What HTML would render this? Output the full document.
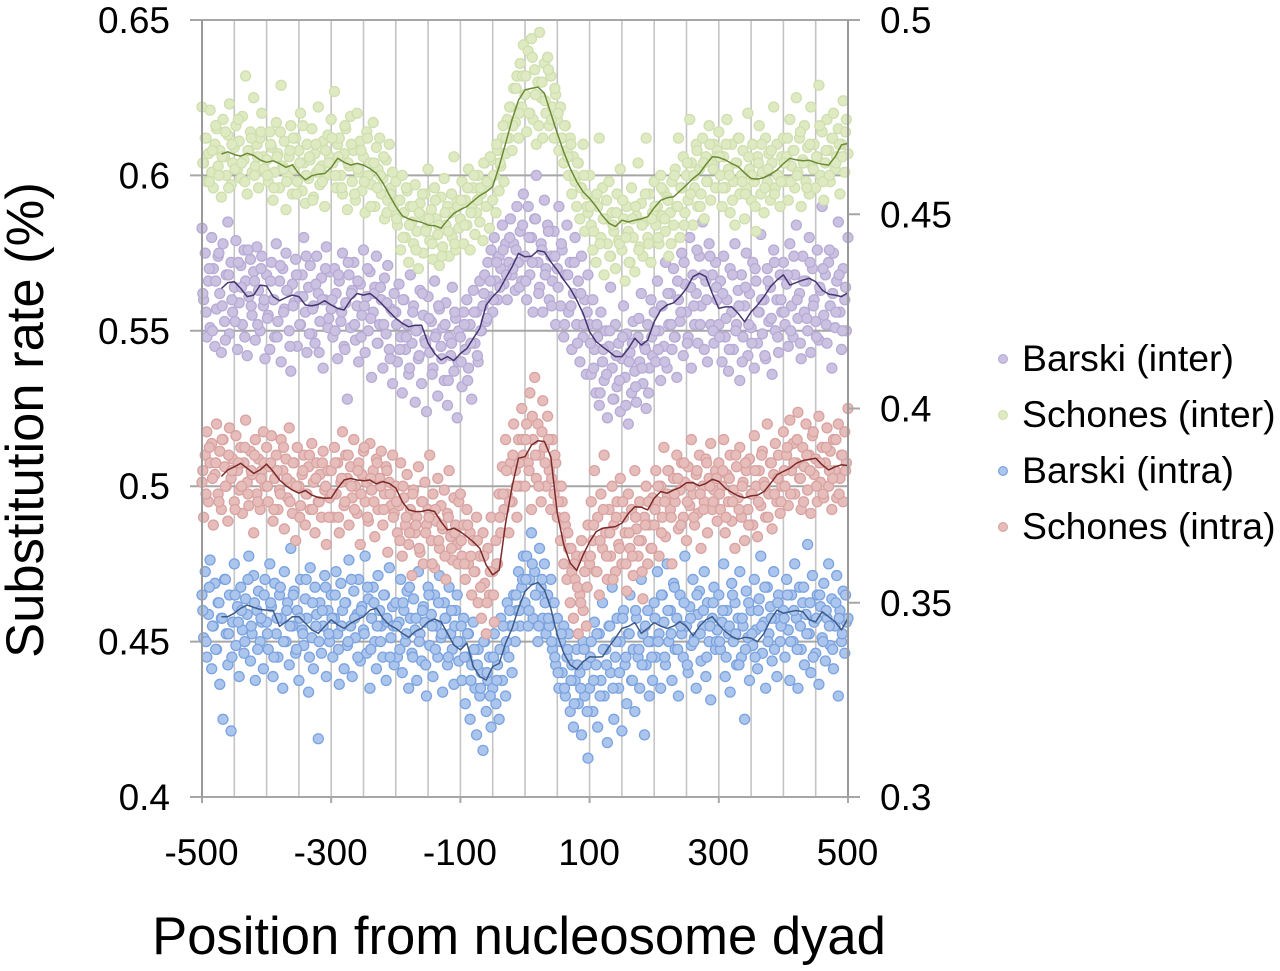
<!DOCTYPE html>
<html><head><meta charset="utf-8"><title>Substitution rate around the nucleosome dyad</title>
<style>html,body{margin:0;padding:0;background:#fff}svg{display:block}text{font-family:"Liberation Sans",Arial,sans-serif;fill:#000}</style></head>
<body>
<svg id="chart" xmlns="http://www.w3.org/2000/svg" width="1280" height="971" viewBox="0 0 1280 971">
<g id="grid"></g>
<g id="marks"></g>
<g id="axes"></g>
<text x="519" y="954" font-size="52.6" text-anchor="middle">Position from nucleosome dyad</text>
<text transform="translate(43,420) rotate(-90)" font-size="52.5" text-anchor="middle">Substitution rate (%)</text>
<g id="legend"></g>
</svg>
<script>
const xTicks=[-500,-300,-100,100,300,500];
const leftTicks=[650,600,550,500,450,400];
const leftLabels=["0.65","0.6","0.55","0.5","0.45","0.4"];
const rightTicks=[500,450,400,350,300];
const rightLabels=["0.5","0.45","0.4","0.35","0.3"];
const seriesNames=["Barski (inter)","Schones (inter)","Barski (intra)","Schones (intra)"];

/* scatter values: rate x1000, one per position from -500 in 2.5 steps */
const barskiInter=[
583,560,575,548,566,551,580,570,545,557,574,562,543,578,553,568,585,549,572,556,564,579,544,559,571,552,576,566,542,561,573,555,569,547,577,563,550,574,558,541,
568,555,544,572,560,548,578,553,566,540,570,557,575,563,550,537,565,559,573,545,561,552,568,580,556,543,564,571,549,558,546,574,562,553,567,538,560,577,551,569,
557,548,570,562,541,566,553,575,545,559,528,568,551,563,572,547,558,540,565,555,576,543,561,550,569,535,556,564,574,546,552,560,538,567,549,571,544,557,533,562,
556,540,565,548,530,560,544,552,536,568,546,558,527,550,541,563,533,555,547,524,561,543,553,538,566,549,529,557,545,551,534,559,526,548,542,564,537,554,522,550,
548,532,556,544,560,538,552,528,563,546,556,540,566,550,558,568,553,572,561,576,556,580,566,560,574,570,584,565,578,560,572,586,568,578,563,590,572,582,566,594,
574,560,590,568,580,556,586,600,572,564,578,556,592,570,584,560,574,566,582,552,570,590,558,576,548,568,584,556,572,544,562,580,552,566,540,574,548,560,536,568,
552,536,560,544,530,548,526,556,540,534,550,522,545,564,538,528,552,532,546,524,541,558,535,549,520,543,530,553,537,527,548,540,562,533,545,525,552,538,560,542,
556,540,566,550,534,558,545,572,538,552,562,544,570,548,535,560,553,575,542,565,556,548,580,538,568,552,562,546,574,558,585,544,566,540,578,552,568,546,572,560,
552,566,540,574,548,560,537,570,556,544,578,552,563,534,568,548,558,575,542,562,551,572,538,566,546,556,581,549,560,541,570,553,564,536,576,550,560,543,568,556,
572,552,565,545,578,558,548,568,584,554,562,541,574,556,566,550,580,543,570,560,553,576,547,563,590,555,568,546,572,558,538,575,551,566,585,556,544,570,560,550,580];
const schonesInter=[
622,604,612,598,607,621,601,596,610,615,603,608,593,618,606,600,613,623,597,604,609,616,602,611,599,619,605,632,594,608,614,601,625,603,610,596,612,620,606,601,
605,598,614,609,592,601,617,607,596,629,603,611,589,600,606,616,594,602,612,598,608,620,595,604,591,610,599,605,615,593,607,601,622,597,603,611,590,600,613,606,
618,604,627,596,610,612,600,594,607,615,589,603,619,598,608,592,620,601,611,595,606,588,614,600,604,597,617,590,609,602,612,594,599,586,605,592,610,596,601,588,
598,584,592,576,600,588,580,595,572,590,585,578,597,582,570,591,587,575,594,583,602,579,589,573,596,586,581,571,593,577,599,584,590,574,588,580,606,576,592,583,
586,598,578,592,584,602,576,590,596,581,588,600,585,594,579,604,590,597,583,605,592,600,588,608,595,603,612,598,607,618,612,622,608,628,617,632,612,636,622,642,
626,614,640,620,644,618,634,610,630,646,625,612,636,620,638,616,632,622,612,626,618,608,622,612,604,616,608,600,612,594,606,598,590,604,586,596,610,582,594,588,
600,584,576,592,572,590,612,580,596,568,586,578,598,574,588,582,570,594,579,602,576,586,566,590,582,572,596,580,569,587,604,577,591,574,585,612,580,594,572,588,
598,584,590,578,600,587,595,582,593,574,588,598,584,602,590,612,580,596,606,588,600,592,618,604,584,596,610,590,602,594,612,586,606,598,616,592,604,610,596,608,
614,600,590,606,596,618,602,588,610,598,584,604,612,594,600,608,586,596,620,602,592,610,598,582,606,616,594,601,588,612,598,607,592,604,622,596,610,600,590,606,
612,598,606,592,618,603,608,596,625,601,612,590,605,616,598,609,594,622,603,610,596,606,629,600,614,592,604,618,608,598,612,620,602,606,615,594,610,624,601,618,607];
const barskiIntra=[
352,341,358,336,347,361,333,344,355,338,350,329,346,320,356,342,334,352,317,345,360,339,349,331,354,343,337,351,347,362,335,342,357,330,348,353,340,345,333,356,
345,338,360,349,331,355,342,336,352,346,328,358,340,350,334,364,344,353,337,348,330,356,343,339,351,346,327,359,341,333,354,347,315,350,337,344,357,331,348,340,
352,336,346,358,342,329,355,348,333,350,339,361,344,331,353,341,347,356,335,349,343,362,337,351,328,346,354,340,333,357,348,344,336,352,330,345,359,341,349,334,
350,336,345,356,332,348,340,353,328,346,337,351,343,330,358,342,335,349,345,326,354,339,347,331,352,344,336,357,341,327,350,346,334,354,342,338,329,348,352,335,
340,330,346,324,336,342,320,334,345,328,316,338,326,332,312,340,322,330,336,318,328,342,324,334,320,346,330,338,326,350,336,344,332,352,340,348,358,344,354,362,
350,362,344,356,368,346,358,352,340,364,354,346,360,342,352,344,356,338,350,334,346,328,340,332,344,326,336,342,322,334,318,330,338,324,332,316,340,326,334,310,
328,340,322,345,334,318,342,330,350,326,338,314,344,332,354,320,336,346,328,340,317,348,334,324,342,352,330,338,322,346,336,328,356,342,316,334,348,326,340,330,
350,336,358,342,328,352,345,334,360,340,348,330,355,338,346,326,352,342,336,362,344,332,349,339,356,341,328,347,353,335,344,358,331,350,340,325,346,354,338,343,
352,338,345,360,331,348,342,327,355,340,350,334,346,358,336,344,320,353,341,330,348,339,356,343,333,351,362,337,345,328,354,342,349,335,358,346,331,352,340,344,
348,336,356,343,330,352,340,360,346,328,354,338,350,334,347,365,342,332,357,345,337,352,329,349,341,355,335,346,360,339,351,333,344,357,326,348,340,353,337,345,346];
const schonesIntra=[
381,372,388,394,376,386,391,370,383,396,378,389,374,392,385,380,371,395,382,387,376,393,384,379,390,373,386,397,381,375,389,383,368,392,378,387,374,384,394,380,
390,376,385,393,371,382,388,374,379,392,384,369,387,377,395,381,373,386,366,390,380,375,383,388,370,378,385,374,391,381,368,386,376,383,372,389,379,365,384,377,
384,372,390,378,386,368,381,394,375,388,382,370,385,377,392,380,373,386,365,383,389,376,381,371,391,379,384,367,387,374,382,389,370,378,385,363,381,375,388,373,
380,368,375,386,362,377,370,383,365,374,357,379,368,372,385,363,376,360,381,370,374,388,366,378,359,371,382,364,375,369,379,356,373,384,367,361,377,370,365,376,
378,362,370,356,374,360,368,352,366,358,372,350,362,346,368,355,342,364,352,372,358,345,366,360,378,368,385,374,392,378,368,386,376,396,384,372,392,380,400,388,
380,396,386,404,374,392,408,382,396,388,376,402,390,380,398,384,374,392,378,386,372,380,366,376,360,370,356,364,350,358,346,356,362,342,352,366,348,358,344,370,
360,376,366,384,358,372,352,378,364,388,368,356,374,362,380,370,358,376,365,382,360,372,368,353,378,364,374,357,384,369,362,376,366,351,372,380,360,370,364,377,
370,384,376,362,380,372,390,367,378,384,374,360,382,376,388,369,379,386,372,381,366,385,375,392,378,370,383,373,388,364,380,376,387,368,382,391,374,379,384,371,
386,374,380,392,368,383,376,388,371,379,364,385,377,390,372,381,366,384,374,387,378,370,393,380,367,384,375,389,381,372,396,378,386,369,383,391,376,388,373,380,
394,380,388,375,397,384,391,378,386,399,382,374,390,385,396,379,388,373,393,383,387,376,398,381,390,377,386,395,380,389,374,392,384,377,396,382,388,376,394,386,400];

/* additional scatter values near each band's centre: rate x1000, from -498.75 in 5 steps */
const barskiInterMore=[
562,556,570,550,566,575,558,547,568,560,553,572,564,548,576,558,566,552,570,560,
554,566,560,548,571,556,563,545,558,568,552,561,574,549,557,565,543,560,570,554,
560,550,568,556,544,572,562,552,566,548,558,570,554,562,546,564,552,559,541,556,
552,544,560,548,538,556,550,542,562,546,554,536,548,558,541,552,534,546,556,540,
540,552,534,546,556,542,550,562,554,566,560,572,564,576,568,580,570,576,564,584,
566,580,572,586,562,576,568,582,558,574,564,578,552,568,558,572,546,562,552,556,
546,538,552,530,544,536,550,528,542,534,548,526,540,546,532,554,538,544,530,548,
550,544,558,540,562,552,548,566,556,572,546,564,558,576,552,568,560,574,550,564,
548,562,554,544,568,550,558,540,564,552,546,570,556,560,542,566,554,572,548,560,
556,568,550,574,560,546,566,554,572,558,548,564,570,552,576,562,556,568,550,564];
const schonesInterMore=[
604,612,598,608,616,600,606,614,596,610,602,618,604,598,608,612,600,606,614,602,
600,610,596,606,614,602,598,608,612,594,604,616,600,606,592,610,602,598,608,604,
612,600,606,596,616,604,610,594,602,608,598,612,590,604,596,600,606,588,594,590,
586,592,580,596,584,590,576,588,594,582,586,578,592,584,574,588,582,594,578,590,
592,584,596,588,600,592,596,604,598,606,600,610,604,616,612,622,616,628,620,632,
632,620,638,626,616,630,624,634,618,628,620,612,616,606,610,600,604,596,600,590,
590,582,594,578,586,592,574,584,588,578,592,580,572,586,590,576,584,594,578,586,
590,580,596,586,592,578,600,590,596,584,604,594,600,608,590,604,598,610,602,606,
606,596,610,600,592,604,612,598,594,606,600,590,604,610,596,602,608,594,600,598,
604,612,598,608,600,614,604,596,610,602,606,616,598,608,600,612,604,610,606,614];
const barskiIntraMore=[
348,340,354,344,338,350,346,356,342,336,352,345,348,340,356,344,350,338,346,352,
342,350,336,346,354,340,348,344,352,338,346,342,356,336,350,344,340,348,354,342,
346,352,338,344,350,340,356,346,336,348,342,354,338,350,344,340,352,346,336,344,
344,338,350,342,354,336,346,340,348,334,352,344,338,350,342,346,336,348,344,340,
344,336,342,330,338,334,328,340,332,326,336,330,338,344,340,348,344,352,348,356,
356,348,360,352,344,356,350,346,340,336,332,342,328,338,330,324,334,328,338,322,
336,330,342,326,338,334,344,328,340,332,346,336,342,330,348,338,334,344,340,336,
346,340,352,336,348,342,354,338,344,350,334,346,340,352,342,348,336,344,350,340,
340,348,336,344,352,342,334,346,338,350,342,336,348,344,354,340,346,338,350,344,
346,352,340,348,338,344,354,342,350,336,346,352,340,348,344,338,350,346,342,352];
const schonesIntraMore=[
384,378,390,382,386,376,392,380,388,384,374,386,380,390,378,384,388,376,382,386,
380,386,374,384,378,390,382,376,386,380,372,384,378,388,374,382,376,386,380,372,
378,386,372,382,376,388,380,374,384,378,390,372,382,376,386,380,374,384,378,372,
376,366,380,372,368,378,370,364,376,368,372,360,374,366,370,362,372,364,368,360,
366,360,370,362,358,366,354,362,350,358,352,360,372,378,384,376,388,380,386,392,
392,384,398,388,380,394,386,392,382,388,376,380,372,368,364,360,354,350,362,354,
362,370,358,366,374,362,368,356,372,364,376,360,368,362,372,366,358,370,376,364,
374,380,368,376,384,372,378,382,370,386,376,380,372,384,378,374,386,380,376,382,
378,384,372,382,376,388,374,380,386,370,378,384,376,388,380,372,386,378,382,376,
384,390,378,386,392,382,376,388,384,394,380,386,378,390,384,382,392,378,388,384];

/* moving averages: rate x1000, one per position from -470 in 10 steps */
const barskiInterAvg=[563.6,565.5,565.8,563.6,561,561.5,564.7,564.4,561,559.7,560.7,561.5,561,558.3,558,558.5,559.7,558.3,557.2,556.7,559.9,562,561.5,562,560.4,558.3,556.1,554,552.4,551.3,551.8,551.8,546,542.7,540.6,541.7,540.4,542.7,544.3,547.6,550.8,558.3,561,563.1,566.9,570.6,574.9,573.8,574,575.8,575.4,572.2,569.5,566.3,563.6,559.9,555.6,549.7,546.5,544.9,543.3,541.7,541.7,544.3,547.6,545.4,547,552.9,556.7,558.3,559,561,563.6,567.4,568.5,567.4,562,557.2,557.7,557.7,555.6,552.9,556.1,558.3,561,564.2,566.3,568,564.7,565.5,566.3,566.9,565.8,563.1,561.8,561.5,561,562.3];
const schonesInterAvg=[606.9,607.6,606.7,606.2,607.1,606.4,605,604.2,604.7,603.8,602.6,603.4,600.5,598.6,599.9,600.4,600.6,602.5,605.5,604.2,603.3,603.9,603.3,602.2,600.6,597.6,593.7,590,587,586,585.4,584.9,584,583.8,583,585.6,587.8,589,590,591.8,593.5,594.7,596.4,603,610.3,618,624.2,627.5,628,628.4,626.4,620,613.5,607.5,602.3,598,594.7,592.6,590,587,584.6,583.6,585.6,585,585.6,586,586.7,589.6,592,592.8,593.1,595,596.9,599,600.6,603.5,606,605.8,605,603.8,602.8,600.8,599,598.8,599.3,600.4,601.7,603.8,605.5,605,604.7,604.9,604.1,603.6,603.3,606,609.8,610.3];
const barskiIntraAvg=[346.4,346.4,347.3,348.6,349.4,348.8,348.3,348.1,348,343.9,345.1,346.4,346.4,344.7,343,342.1,343.9,345.6,344.3,343.4,344.7,345.6,346.4,348.1,348.6,346,344.3,343.4,342.1,341.1,342.6,343.4,345.1,345.8,345.1,342.1,339.1,337.9,339.6,333.6,331,330.1,333.6,334.4,339.6,343.4,348.6,352.9,354.6,355.2,353.3,348.6,341.7,337,334,332.9,334.8,336.1,336,336.1,338.7,340.9,343.4,343.9,344.9,342.1,343.4,344.9,344,343.4,344,345.1,343.9,341.5,343.9,345.6,346.4,344.3,342.6,341.3,340.6,341.1,340.9,340,342.1,345.6,348.1,347.3,347.7,348,347.7,345.6,345.1,347.7,346.4,345.1,343,346];
const schonesIntraAvg=[382.5,384.2,385,385.9,384.6,383.3,384.2,385.7,383.8,381.6,380.1,379,378.2,378.9,377.7,377.1,376.9,377,379.5,381.6,382,381.6,381.4,381.6,380.6,381.2,380.7,379.5,376,373.9,373.5,373.5,373.9,373.5,370.9,368.7,369.2,368.3,367,365.7,364,359.7,357.2,358.4,370.5,379.9,387.2,387.6,390.6,391.7,391.5,387.6,373,364.9,360.2,358.3,362.3,365.7,368.3,369.2,369.4,369.6,370.5,373,374.7,374.6,373.9,376.9,378.6,378.2,379,379.7,380.9,380.9,380.1,380.7,381.8,381.2,379.5,378.4,377.5,377,377.5,377.7,378.6,380.7,382.9,383.8,384.6,385.9,386.6,386.9,387.2,385.5,384.2,385,385.5,385.3];

const NS="http://www.w3.org/2000/svg";
const X0=202,X1=848,Y0=20,Y1=797;
function xScale(v){return X0+(v+500)/1000*(X1-X0);}
function yLeft(v){return Y0+(650-v)/250*(Y1-Y0);}
function yRight(v){return Y0+(500-v)/200*(Y1-Y0);}
function make(parent,tag,attrs,text){
  const el=document.createElementNS(NS,tag);
  for(const k in attrs)el.setAttribute(k,attrs[k]);
  if(text!==undefined)el.textContent=text;
  parent.appendChild(el);
  return el;
}
const grid=document.getElementById('grid'),axes=document.getElementById('axes'),marks=document.getElementById('marks'),legend=document.getElementById('legend');

for(let v=-450;v<500;v+=50){
  const line=make(grid,'line',{x1:xScale(v),x2:xScale(v),y1:Y0,y2:Y1,stroke:'#c4c4c4','stroke-width':1.6});
  
  
}
leftTicks.forEach(function(v,i){
  const y=yLeft(v);
  const tick=make(grid,'line',{x1:190,x2:X1,y1:y,y2:y,stroke:'#a6a6a6','stroke-width':2});
  
  
  const label=make(axes,'text',{x:170,y:y+13,'font-size':37,'text-anchor':'end'},leftLabels[i]);
  
  
});
rightTicks.forEach(function(v,i){
  const y=yRight(v);
  const tick=make(axes,'line',{x1:X1,x2:860,y1:y,y2:y,stroke:'#a6a6a6','stroke-width':2});
  
  
  const label=make(axes,'text',{x:880,y:y+13,'font-size':37},rightLabels[i]);
  
  
});
[X0,X1].forEach(function(x){
  const edge=make(axes,'line',{x1:x,x2:x,y1:Y0,y2:Y1,stroke:'#9a9a9a','stroke-width':2});
  
  
});
xTicks.forEach(function(v){
  const x=xScale(v);
  const tick=make(axes,'line',{x1:x,x2:x,y1:Y1,y2:Y1+6,stroke:'#a6a6a6','stroke-width':2});
  
  
  const label=make(axes,'text',{x:x-0.5,y:865,'font-size':37,'text-anchor':'middle'},String(v));
  
  
});

const seriesStyles=[
 {fill:'#cbc1e1',edge:'#b7abd6',line:'#46366f',y:yLeft,dots:barskiInter,more:barskiInterMore,avg:barskiInterAvg},
 {fill:'#dfeac3',edge:'#cfdfae',line:'#6a8a34',y:yLeft,dots:schonesInter,more:schonesInterMore,avg:schonesInterAvg},
 {fill:'#acc5ec',edge:'#7ba3e0',line:'#3c5a88',y:yRight,dots:barskiIntra,more:barskiIntraMore,avg:barskiIntraAvg},
 {fill:'#e6bdbb',edge:'#d8a3a1',line:'#7c2a28',y:yRight,dots:schonesIntra,more:schonesIntraMore,avg:schonesIntraAvg}
];
seriesStyles.forEach(function(s){
  s.dots.forEach(function(v,i){
    const dot=make(marks,'circle',{cx:xScale(-500+i*2.5),cy:s.y(v),r:5,fill:s.fill,stroke:s.edge,'stroke-width':1.3});
    
    
  });
  s.more.forEach(function(v,i){
    const dot=make(marks,'circle',{cx:xScale(-498.75+i*5),cy:s.y(v),r:5,fill:s.fill,stroke:s.edge,'stroke-width':1.3});
    
    
  });
});
seriesStyles.forEach(function(s){
  const pts=s.avg.map(function(v,i){return xScale(-470+i*10).toFixed(1)+','+s.y(v).toFixed(1);}).join(' ');
  const line=make(marks,'polyline',{points:pts,fill:'none',stroke:s.line,'stroke-width':1.5,'stroke-linejoin':'round'});
  
  
});

const legendDotY=[359,415,471,527];
const legendTextY=[371,427,483,539];
seriesNames.forEach(function(n,i){
  const dot=make(legend,'circle',{cx:1003,cy:legendDotY[i],r:4.4,fill:seriesStyles[i].fill,stroke:seriesStyles[i].edge,'stroke-width':1.2});
  
  
  const label=make(legend,'text',{x:1022,y:legendTextY[i],'font-size':37.4},n);
  
  
});
</script>
</body></html>
